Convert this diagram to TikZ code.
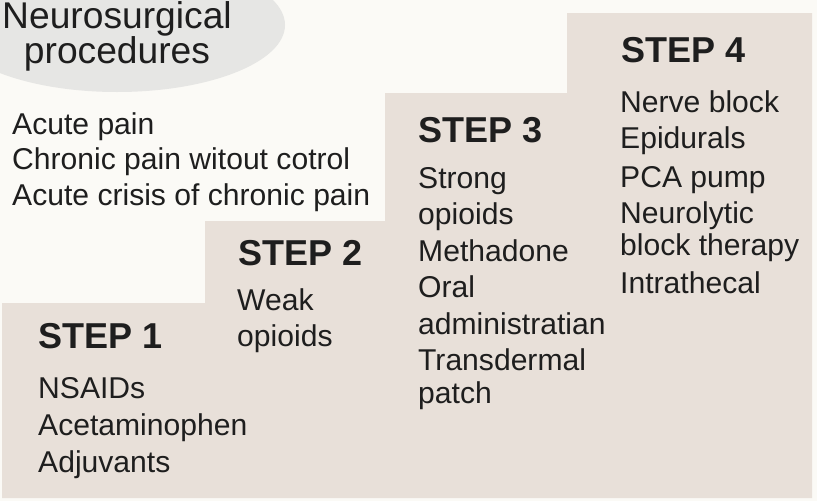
\documentclass[tikz,border=0pt]{standalone}
\usepackage{fontspec}
\setmainfont{Liberation Sans}
\definecolor{bgc}{HTML}{FBFAF6}
\definecolor{stairc}{HTML}{E8E0D9}
\definecolor{ellc}{HTML}{E6E6E4}
\definecolor{txtc}{HTML}{1E1E1E}
\begin{document}
\begin{tikzpicture}[x=1pt,y=-1pt,
  item/.style={anchor=base west,inner sep=0pt,text=txtc,font=\fontsize{30.1}{35}\selectfont},
  stephead/.style={anchor=base west,inner sep=0pt,text=txtc,font=\fontsize{36}{40}\selectfont\bfseries},
  headtext/.style={anchor=base,inner sep=0pt,text=txtc,font=\fontsize{37.2}{40}\selectfont}]
\fill[bgc] (0,0) rectangle (817,501);
\useasboundingbox (0,0) rectangle (817,501);
\begin{scope}
\clip (0,0) rectangle (817,501);
\fill[ellc] (117,25) ellipse [x radius=168pt, y radius=67pt];
\end{scope}
\fill[stairc] (2,498) -- (2,303) -- (205,303) -- (205,221) -- (385,221) -- (385,93)
  -- (567,93) -- (567,13) -- (812,13) -- (812,498) -- cycle;
% heading
\node[headtext] (h1) at (117,28.5) {Neurosurgical};
\node[headtext] (h2) at (117,63.5) {procedures};
% indications
\node[item] (i1) at (12,134) {Acute pain};
\node[item] (i2) at (12,169.5) {Chronic pain witout cotrol};
\node[item] (i3) at (12,205) {Acute crisis of chronic pain};
% step 1
\node[stephead] (s1) at (38,348) {STEP 1};
\node[item] (s1a) at (38,398) {NSAIDs};
\node[item] (s1b) at (38,435) {Acetaminophen};
\node[item] (s1c) at (38,472) {Adjuvants};
% step 2
\node[stephead] (s2) at (238,265) {STEP 2};
\node[item] (s2a) at (237,310) {Weak};
\node[item] (s2b) at (237,346) {opioids};
% step 3
\node[stephead] (s3) at (418,142) {STEP 3};
\node[item] (s3a) at (418,188) {Strong};
\node[item] (s3b) at (418,224.5) {opioids};
\node[item] (s3c) at (418,261) {Methadone};
\node[item] (s3d) at (418,297.5) {Oral};
\node[item] (s3e) at (418,334) {administratian};
\node[item] (s3f) at (418,370.5) {Transdermal};
\node[item] (s3g) at (418,403) {patch};
% step 4
\node[stephead] (s4) at (621,62) {STEP 4};
\node[item] (s4a) at (620,112) {Nerve block};
\node[item] (s4b) at (620,148) {Epidurals};
\node[item] (s4c) at (620,187) {PCA pump};
\node[item] (s4d) at (620,223) {Neurolytic};
\node[item] (s4e) at (620,255) {block therapy};
\node[item] (s4f) at (620,293) {Intrathecal};
\end{tikzpicture}
\end{document}
